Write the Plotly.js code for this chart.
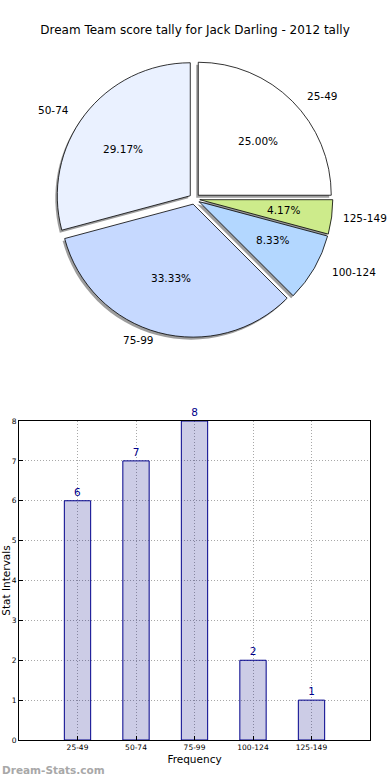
<!DOCTYPE html>
<html>
<head>
<meta charset="utf-8">
<script src="https://cdn.plot.ly/plotly-3.0.1.min.js"></script>
<style>html,body{margin:0;padding:0;background:#fff;}#chart{width:390px;height:780px;}</style>
</head>
<body>
<div id="chart"></div>
<script>
// ---- data ----
var categories = ['25-49', '50-74', '75-99', '100-124', '125-149'];
var counts = [6, 7, 8, 2, 1];
var pieOrder = ['25-49', '125-149', '100-124', '75-99', '50-74'];
var pieColors = ['#ffffff', '#cdeb8b', '#b3d7ff', '#c6d9ff', '#eaf1ff'];
var titleText = 'Dream Team score tally for Jack Darling - 2012 tally';
var xTitle = 'Frequency';
var yTitle = 'Stat Intervals';
var watermark = 'Dream-Stats.com';

// ---- derived pie data ----
var pieValues = pieOrder.map(function (c) { return counts[categories.indexOf(c)]; });
var total = pieValues.reduce(function (a, b) { return a + b; }, 0);

// ---- layout geometry (pixels) ----
var W = 390, H = 780;
var CX = 194.5, CY = 199;     // pie centre
var R = 133;                  // pie radius
var PULL = 0.04;
var RXL = 141, RYL = 128;     // label placement radii
var half = R * (1 + PULL);
var pieDomain = { x: [(CX - half) / W, (CX + half) / W], y: [1 - (CY + half) / H, 1 - (CY - half) / H] };
var sdx = -2, sdy = 2.5;
var shadowDomain = { x: [pieDomain.x[0] + sdx / W, pieDomain.x[1] + sdx / W], y: [pieDomain.y[0] - sdy / H, pieDomain.y[1] - sdy / H] };

var font = 'DejaVu Sans, sans-serif';

var shadow = {
  type: 'pie', values: pieValues, labels: pieOrder, sort: false, direction: 'clockwise', rotation: 0,
  pull: PULL, domain: shadowDomain, textinfo: 'none', hoverinfo: 'skip', showlegend: false,
  marker: { colors: pieValues.map(function () { return 'rgba(60,60,60,0.5)'; }), line: { width: 0 } }
};
var pie = {
  type: 'pie', values: pieValues, labels: pieOrder, sort: false, direction: 'clockwise', rotation: 0,
  pull: PULL, domain: pieDomain, textinfo: 'none', showlegend: false,
  marker: { colors: pieColors, line: { color: '#000000', width: 0.8 } }
};

// annotations for pie labels and percentages (matplotlib-like positions)
var annotations = [];
var cum = 0;
pieValues.forEach(function (v, i) {
  var mid = (cum + v / 2) / total * 2 * Math.PI;
  cum += v;
  var dx = Math.sin(mid), dy = Math.cos(mid); // dy up
  var ox = CX + PULL * R * dx * 0.93, oy = CY - PULL * R * dy * 0.93;
  var lx = ox + 1.1 * RXL * dx, ly = oy - 1.1 * RYL * dy;
  var px = ox + 0.6 * RXL * dx, py = oy - 0.6 * RYL * dy;
  var anchor = dx >= 0 ? 'left' : 'right';
  var shift = dx >= 0 ? -3 : 3;
  // keep label inside the page if it would run past the right edge
  if (anchor === 'left' && lx + pieOrder[i].length * 6.3 > W - 2) { lx = W - 1; anchor = 'right'; shift = 0; }
  annotations.push({
    xref: 'paper', yref: 'paper', x: lx / W, y: 1 - ly / H, text: pieOrder[i], showarrow: false,
    xanchor: anchor, xshift: shift, yanchor: 'middle', font: { family: font, size: 10.5, color: '#000' }
  });
  annotations.push({
    xref: 'paper', yref: 'paper', x: px / W, y: 1 - py / H, text: (v / total * 100).toFixed(2) + '%', showarrow: false,
    xanchor: 'center', yanchor: 'middle', font: { family: font, size: 10.5, color: '#000' }
  });
});
annotations.push({
  xref: 'paper', yref: 'paper', x: 0, y: 1 - 770 / H, text: watermark, showarrow: false,
  xanchor: 'left', yanchor: 'middle', font: { family: font, size: 10.5, color: '#a8a8a8', weight: 'bold' }
});

var bar = {
  type: 'bar', x: categories, y: counts, width: 0.45, showlegend: false,
  marker: { color: 'rgba(0,0,128,0.2)', line: { color: '#00008b', width: 1 } },
  text: counts.map(String), textposition: 'outside', cliponaxis: false, constraintext: 'none',
  textfont: { family: font, size: 10.5, color: '#00008b' }
};

var layout = {
  width: W, height: H,
  margin: { l: 0, r: 0, t: 0, b: 0 },
  paper_bgcolor: '#ffffff', plot_bgcolor: '#ffffff',
  font: { family: font, color: '#000' },
  title: { text: titleText, x: 0.5, xref: 'paper', xanchor: 'center', y: 1 - 30 / H, yanchor: 'middle', yref: 'paper',
           font: { family: font, size: 12, color: '#000' } },
  xaxis: {
    domain: [19 / W, 370 / W], type: 'category', range: [-1, 5],
    showline: true, linecolor: '#000', linewidth: 1, mirror: true,
    ticks: 'inside', ticklen: 4, tickcolor: '#000',
    showgrid: true, gridcolor: '#a8a8a8', griddash: '1px,2px', gridwidth: 1,
    tickfont: { family: font, size: 7.5, color: '#000' },
    title: { text: xTitle, font: { family: font, size: 10.5, color: '#000' }, standoff: 4 },
    automargin: false, fixedrange: true
  },
  yaxis: {
    domain: [1 - 740 / H, 1 - 421 / H], range: [0, 8], dtick: 1,
    showline: true, linecolor: '#000', linewidth: 1, mirror: true,
    ticks: 'inside', ticklen: 4, tickcolor: '#000',
    showgrid: true, gridcolor: '#a8a8a8', griddash: '1px,2px', gridwidth: 1, zeroline: false,
    tickfont: { family: font, size: 7.5, color: '#000' },
    title: { text: yTitle, font: { family: font, size: 10.5, color: '#000' }, standoff: 0 },
    automargin: false, fixedrange: true
  },
  annotations: annotations
};

Plotly.newPlot('chart', [shadow, pie, bar], layout, { displayModeBar: false, staticPlot: true });
</script>
</body>
</html>
